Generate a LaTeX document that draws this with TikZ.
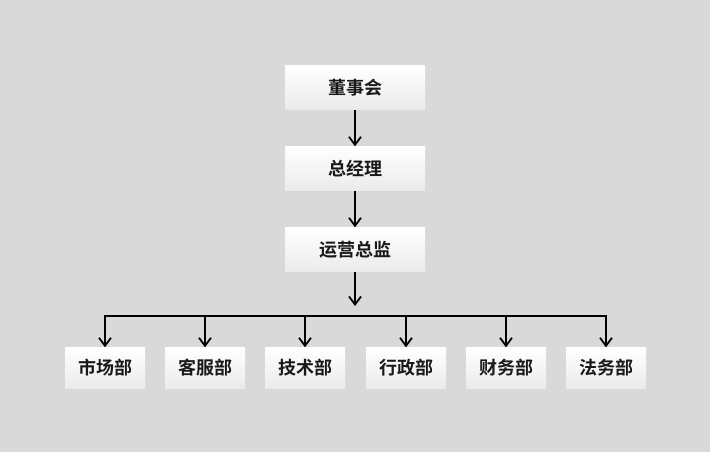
\documentclass[tikz,border=0pt]{standalone}
\usepackage{fontspec}
\newfontfamily\cjk{Noto Sans CJK SC}[BoldFont={Noto Sans CJK SC Bold}]
\usetikzlibrary{arrows.meta}
\begin{document}
\begin{tikzpicture}[x=1pt,y=-1pt,
  box/.style={top color=white,bottom color=black!8,draw=none,minimum height=44,inner sep=0,font=\cjk\bfseries\fontsize{18}{18}\selectfont,text=black!90},
  topbox/.style={box,minimum width=140},
  dept/.style={box,minimum width=80,minimum height=41},
  arr/.style={line width=1.8pt,-{Straight Barb[length=8pt,width=12pt,line width=1.8pt]}}]
\fill[black!15] (0,0) rectangle (710,452);
\useasboundingbox (0,0) rectangle (710,452);
\node[topbox] (a) at (355,87.5) {董事会};
\node[topbox] (b) at (355,168.5) {总经理};
\node[topbox] (c) at (355,249.5) {运营总监};
\coordinate (bus) at (355,306);
\draw[arr] (a) -- (b);
\draw[arr] (b) -- (c);
\draw[arr] (c) -- (bus);
\foreach \n/\x/\t in {d1/105/市场部,d2/205/客服部,d3/305/技术部,d4/406/行政部,d5/506/财务部,d6/606/法务部}{
  \node[dept] (\n) at (\x,368) {\t};
  \coordinate (\n t) at (\x,316);
  \draw[arr] (\n t) -- (\n);
}
\draw[line width=1.8pt] ([xshift=-0.9]d1t) -- ([xshift=0.9]d6t);
\end{tikzpicture}
\end{document}
